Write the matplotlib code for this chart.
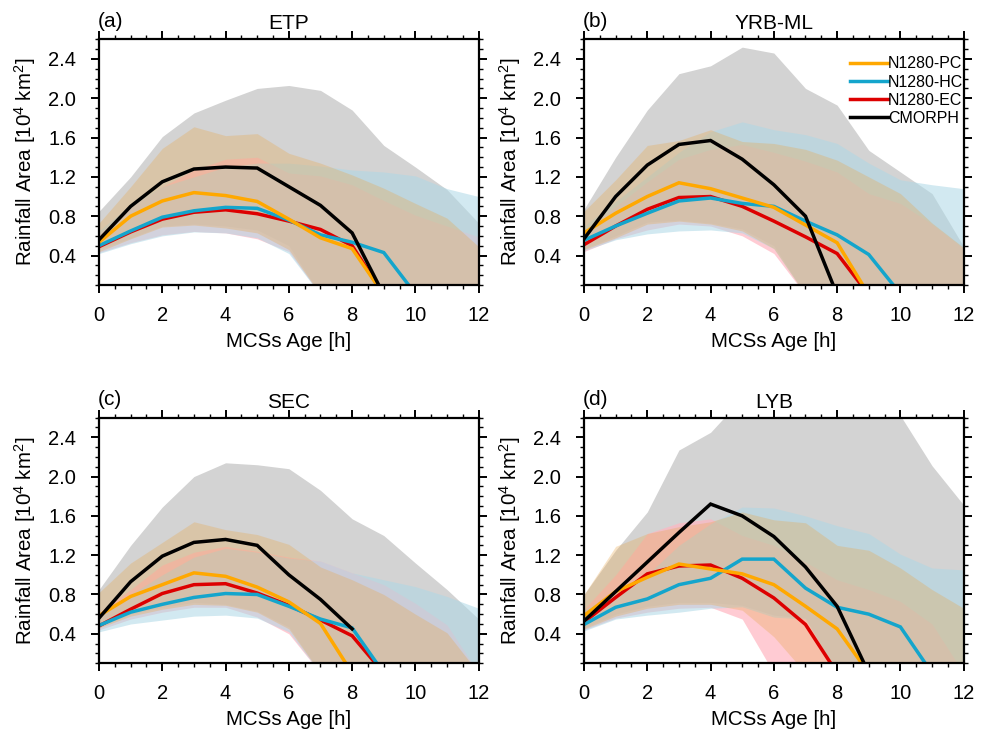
import numpy as np
import matplotlib
matplotlib.use("Agg")
import matplotlib.pyplot as plt
from matplotlib.ticker import MultipleLocator, FormatStrFormatter

plt.rcParams['font.family'] = ['Liberation Sans', 'DejaVu Sans']
plt.rcParams['mathtext.fontset'] = 'custom'
plt.rcParams['mathtext.rm'] = 'Liberation Sans'
plt.rcParams['mathtext.it'] = 'Liberation Sans'

nan = np.nan
hours = list(range(13))
regions = ['ETP', 'YRB-ML', 'SEC', 'LYB']
panel_tags = ['(a)', '(b)', '(c)', '(d)']
series = ['N1280-PC', 'N1280-HC', 'N1280-EC', 'CMORPH']

# ---- (a) ETP ----
a_cm = [0.56, 0.90, 1.15, 1.28, 1.30, 1.29, 1.10, 0.91, 0.63, 0, 0, 0, 0]
a_cm_lo = [0.46, 0.58, 0.70, 0.72, 0.70, 0.66, 0.50, 0, 0, 0, 0, 0, 0]
a_cm_hi = [0.85, 1.20, 1.61, 1.85, 1.98, 2.10, 2.13, 2.08, 1.88, 1.52, 1.30, 1.07, 0.73]
a_pc = [0.535, 0.80, 0.955, 1.04, 1.01, 0.95, 0.77, 0.58, 0.47, 0, 0, 0, 0]
a_pc_lo = [0.44, 0.57, 0.69, 0.71, 0.68, 0.63, 0.46, 0, 0, 0, 0, 0, 0]
a_pc_hi = [0.73, 1.10, 1.49, 1.71, 1.62, 1.64, 1.44, 1.34, 1.22, 1.085, 0.93, 0.78, 0.49]
a_hc = [0.50, 0.65, 0.79, 0.855, 0.89, 0.88, 0.76, 0.61, 0.535, 0.43, 0.01, 0, 0]
a_hc_lo = [0.42, 0.52, 0.60, 0.64, 0.63, 0.58, 0.42, 0, 0, 0, 0, 0, 0]
a_hc_hi = [0.65, 0.92, 1.10, 1.20, 1.30, 1.34, 1.34, 1.31, 1.27, 1.25, 1.21, 1.08, 1.00]
a_ec = [0.49, 0.64, 0.77, 0.84, 0.865, 0.825, 0.75, 0.665, 0.50, 0, 0, 0, 0]
a_ec_lo = [0.43, 0.53, 0.61, 0.645, 0.63, 0.57, 0.44, 0, 0, 0, 0, 0, 0]
a_ec_hi = [0.62, 0.90, 1.10, 1.27, 1.38, 1.40, 1.24, 1.21, 1.12, 0.96, 0.81, 0.70, 0.59]

# ---- (b) YRB-ML ----
b_cm = [0.57, 1.00, 1.32, 1.53, 1.57, 1.38, 1.12, 0.80, 0, 0, 0, 0, 0]
b_cm_lo = [0.47, 0.60, 0.74, 0.76, 0.73, 0.67, 0.50, 0, 0, 0, 0, 0, 0]
b_cm_hi = [0.87, 1.40, 1.88, 2.25, 2.33, 2.52, 2.46, 2.10, 1.93, 1.47, 1.25, 1.03, 0.49]
b_pc = [0.63, 0.83, 1.00, 1.14, 1.08, 0.985, 0.89, 0.71, 0.53, 0, 0, 0, 0]
b_pc_lo = [0.46, 0.58, 0.72, 0.75, 0.72, 0.65, 0.47, 0, 0, 0, 0, 0, 0]
b_pc_hi = [0.85, 1.17, 1.52, 1.57, 1.68, 1.56, 1.54, 1.48, 1.37, 1.20, 1.03, 0.73, 0.48]
b_hc = [0.555, 0.70, 0.83, 0.955, 0.985, 0.93, 0.90, 0.75, 0.61, 0.41, 0.01, 0, 0]
b_hc_lo = [0.45, 0.56, 0.62, 0.65, 0.66, 0.63, 0.47, 0, 0, 0, 0, 0, 0]
b_hc_hi = [0.70, 0.95, 1.20, 1.45, 1.66, 1.76, 1.68, 1.63, 1.54, 1.34, 1.17, 1.12, 1.08]
b_ec = [0.51, 0.70, 0.87, 0.99, 1.00, 0.90, 0.75, 0.59, 0.42, 0, 0, 0, 0]
b_ec_lo = [0.44, 0.57, 0.66, 0.72, 0.70, 0.60, 0.42, 0, 0, 0, 0, 0, 0]
b_ec_hi = [0.65, 0.90, 1.15, 1.38, 1.48, 1.53, 1.45, 1.36, 1.25, 1.03, 0.93, 0.72, 0.47]

# ---- (c) SEC ----
c_cm = [0.56, 0.93, 1.19, 1.33, 1.36, 1.30, 1.00, 0.75, 0.45, nan, nan, nan, nan]
c_cm_lo = [0.47, 0.60, 0.67, 0.72, 0.70, 0.63, 0.47, 0, 0, 0, 0, 0, 0]
c_cm_hi = [0.85, 1.30, 1.69, 2.00, 2.14, 2.12, 2.08, 1.86, 1.57, 1.40, 1.12, 0.85, 0.55]
c_pc = [0.585, 0.78, 0.90, 1.02, 0.985, 0.875, 0.725, 0.505, 0, 0, 0, 0, 0]
c_pc_lo = [0.46, 0.58, 0.65, 0.70, 0.69, 0.62, 0.45, 0, 0, 0, 0, 0, 0]
c_pc_hi = [0.82, 1.12, 1.33, 1.54, 1.46, 1.41, 1.31, 1.08, 0.95, 0.80, 0.60, 0.41, 0]
c_hc = [0.485, 0.62, 0.70, 0.77, 0.81, 0.80, 0.68, 0.55, 0.46, 0, 0, 0, 0]
c_hc_lo = [0.42, 0.50, 0.54, 0.58, 0.59, 0.56, 0.42, 0, 0, 0, 0, 0, 0]
c_hc_hi = [0.60, 0.80, 1.00, 1.18, 1.27, 1.23, 1.17, 1.14, 1.02, 0.95, 0.88, 0.78, 0.66]
c_ec = [0.48, 0.65, 0.81, 0.90, 0.91, 0.815, 0.69, 0.54, 0.38, 0, 0, 0, 0]
c_ec_lo = [0.44, 0.55, 0.62, 0.67, 0.67, 0.57, 0.40, 0, 0, 0, 0, 0, 0]
c_ec_hi = [0.62, 0.85, 1.10, 1.23, 1.29, 1.24, 1.18, 1.14, 1.02, 0.90, 0.71, 0.49, 0]

# ---- (d) LYB ----
d_cm = [0.53, 0.83, 1.13, 1.43, 1.72, 1.60, 1.39, 1.08, 0.68, 0, 0, 0, 0]
d_cm_lo = [0.46, 0.60, 0.68, 0.72, 0.72, 0.69, 0.59, 0.56, 0, 0, 0, 0, 0]
d_cm_hi = [0.80, 1.25, 1.64, 2.27, 2.45, 2.80, 2.85, 2.90, 2.85, 2.75, 2.62, 2.11, 1.71]
d_pc = [0.585, 0.83, 0.975, 1.11, 1.06, 1.01, 0.90, 0.68, 0.45, 0, 0, 0, 0]
d_pc_lo = [0.45, 0.58, 0.66, 0.70, 0.70, 0.64, 0.37, 0, 0, 0, 0, 0, 0]
d_pc_hi = [0.80, 1.29, 1.42, 1.49, 1.54, 1.64, 1.56, 1.53, 1.30, 1.25, 1.07, 0.85, 0.66]
d_hc = [0.495, 0.67, 0.755, 0.90, 0.965, 1.16, 1.16, 0.865, 0.67, 0.60, 0.47, 0, 0]
d_hc_lo = [0.43, 0.55, 0.59, 0.62, 0.66, 0.675, 0.57, 0.55, 0, 0, 0, 0, 0]
d_hc_hi = [0.65, 0.80, 1.00, 1.30, 1.52, 1.69, 1.68, 1.60, 1.50, 1.42, 1.21, 1.07, 1.05]
d_ec = [0.52, 0.77, 1.01, 1.09, 1.10, 0.965, 0.765, 0.495, 0, 0, 0, 0, 0]
d_ec_lo = [0.44, 0.56, 0.62, 0.66, 0.67, 0.55, 0, 0, 0, 0, 0, 0, 0]
d_ec_hi = [0.65, 1.00, 1.42, 1.53, 1.57, 1.40, 1.30, 1.13, 0.95, 0.85, 0.73, 0.50, 0]

panels = [
    {'PC': (a_pc, a_pc_lo, a_pc_hi), 'HC': (a_hc, a_hc_lo, a_hc_hi),
     'EC': (a_ec, a_ec_lo, a_ec_hi), 'CM': (a_cm, a_cm_lo, a_cm_hi)},
    {'PC': (b_pc, b_pc_lo, b_pc_hi), 'HC': (b_hc, b_hc_lo, b_hc_hi),
     'EC': (b_ec, b_ec_lo, b_ec_hi), 'CM': (b_cm, b_cm_lo, b_cm_hi)},
    {'PC': (c_pc, c_pc_lo, c_pc_hi), 'HC': (c_hc, c_hc_lo, c_hc_hi),
     'EC': (c_ec, c_ec_lo, c_ec_hi), 'CM': (c_cm, c_cm_lo, c_cm_hi)},
    {'PC': (d_pc, d_pc_lo, d_pc_hi), 'HC': (d_hc, d_hc_lo, d_hc_hi),
     'EC': (d_ec, d_ec_lo, d_ec_hi), 'CM': (d_cm, d_cm_lo, d_cm_hi)},
]

line_colors = {'PC': '#FFA800', 'HC': '#14A5CC', 'EC': '#DD0000', 'CM': '#000000'}
fill_colors = {'CM': ('#D3D3D3', 1.0), 'EC': ('#FFB6C1', 0.7),
               'HC': ('#ADD8E6', 0.55), 'PC': ('#E8A850', 0.32)}
labels = dict(zip(['PC', 'HC', 'EC', 'CM'], series))

fig = plt.figure(figsize=(9.88, 7.37), dpi=100)
positions = [
    [0.1002, 0.6133, 0.3843, 0.3334],
    [0.5911, 0.6133, 0.3843, 0.3334],
    [0.1002, 0.1000, 0.3843, 0.3334],
    [0.5911, 0.1000, 0.3843, 0.3334],
]

for i, pos in enumerate(positions):
    ax = fig.add_axes(pos)
    data = panels[i]
    for key in ['CM', 'EC', 'HC', 'PC']:
        _, lo, hi = data[key]
        col, alp = fill_colors[key]
        ax.fill_between(hours, lo, hi, color=col, alpha=alp, lw=0)
    handles = {}
    for key in ['EC', 'HC', 'PC', 'CM']:
        mean = data[key][0]
        handles[key], = ax.plot(hours, mean, color=line_colors[key], lw=2.5,
                                label=labels[key], solid_joinstyle='miter')

    ax.set_xlim(0, 12)
    ax.set_ylim(0.1, 2.6)
    ax.xaxis.set_major_locator(MultipleLocator(2))
    ax.xaxis.set_minor_locator(MultipleLocator(0.5))
    ax.yaxis.set_major_locator(MultipleLocator(0.4))
    ax.yaxis.set_minor_locator(MultipleLocator(0.1))
    ax.yaxis.set_major_formatter(FormatStrFormatter('%.1f'))
    ax.tick_params(which='both', direction='out', top=True, right=True,
                   labelsize=14.5)
    ax.tick_params(which='major', length=6, width=1.4)
    ax.tick_params(which='minor', length=3, width=1.0)
    ax.tick_params(axis='x', pad=9)
    ax.tick_params(axis='y', pad=10.5)
    for sp in ax.spines.values():
        sp.set_linewidth(1.6)

    ax.set_xlabel('MCSs Age [h]', fontsize=14.8, labelpad=5)
    ax.set_ylabel('Rainfall Area [10$^{4}$ km$^{2}$]', fontsize=14.8,
                  labelpad=7.5)
    ax.text(0.5, 1.04, regions[i], transform=ax.transAxes, ha='center',
            va='baseline', fontsize=15)
    ax.text(-0.003, 1.05, panel_tags[i], transform=ax.transAxes, ha='left',
            va='baseline', fontsize=15)

    if i == 1:
        ax.legend([handles[k] for k in ['PC', 'HC', 'EC', 'CM']],
                  [labels[k] for k in ['PC', 'HC', 'EC', 'CM']],
                  loc='upper left', bbox_to_anchor=(0.70, 0.93),
                  frameon=False, fontsize=11.5, handlelength=2.38,
                  handletextpad=0.0, borderpad=0.0, borderaxespad=0.0,
                  labelspacing=0.2)

fig.savefig('out.png', dpi=100)
